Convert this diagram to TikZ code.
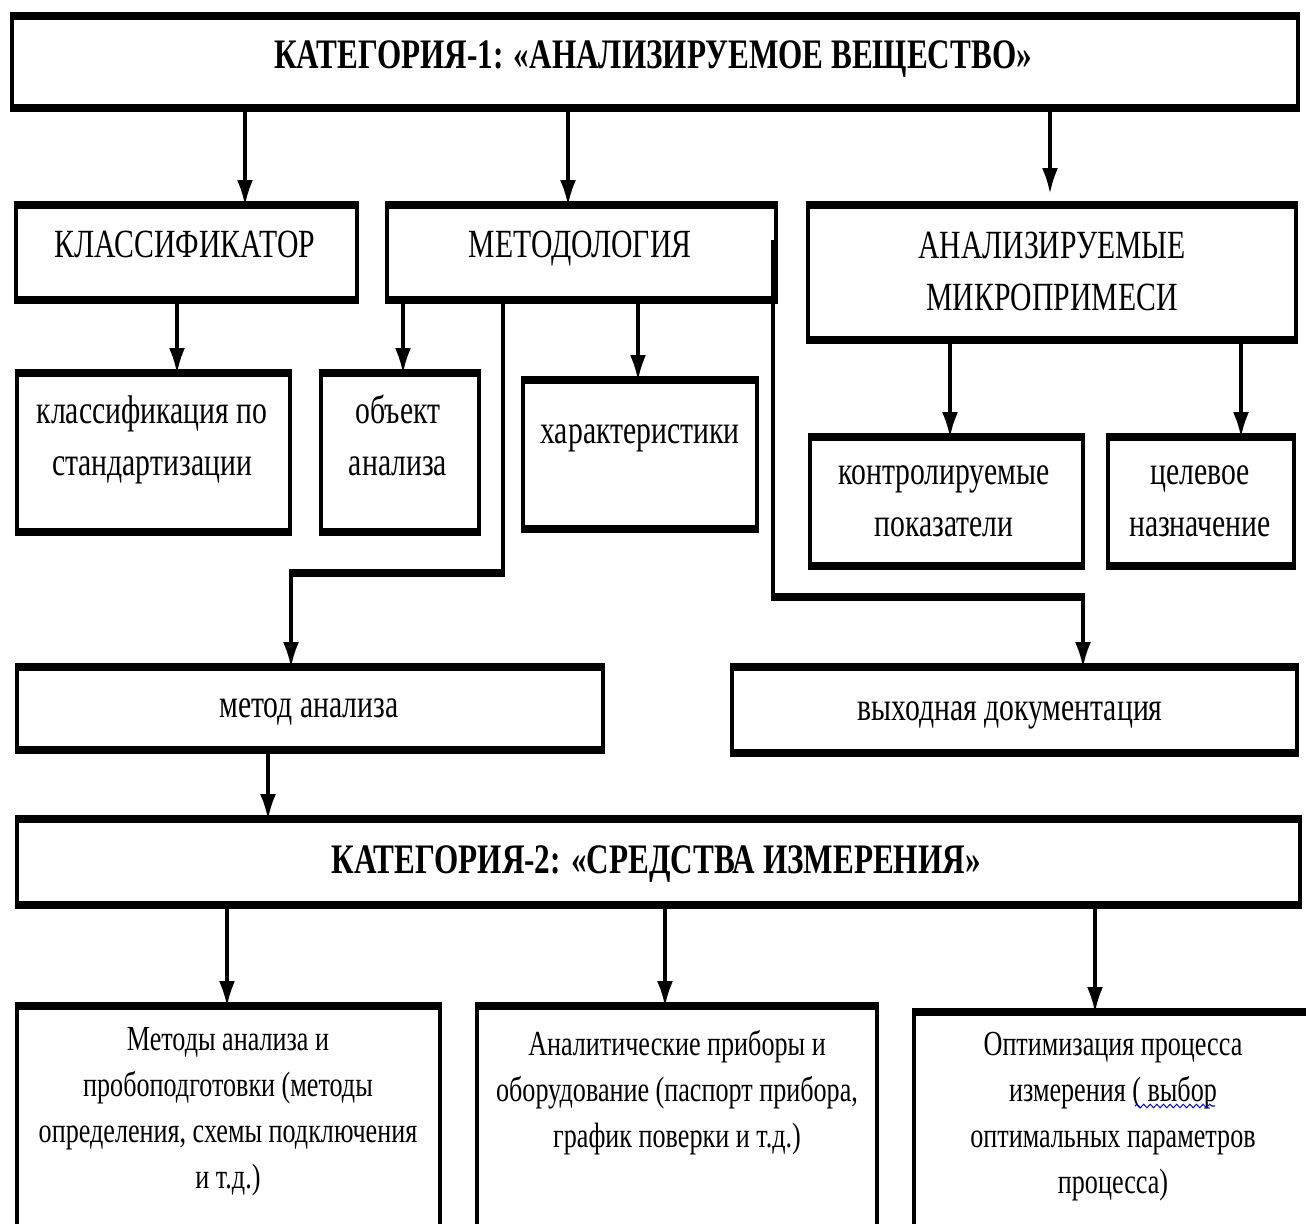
\documentclass[tikz,border=0pt]{standalone}
\usepackage{fontspec}
\setmainfont[FakeStretch=1.35]{Liberation Serif}
\usetikzlibrary{arrows.meta,fit,decorations.pathmorphing}
\begin{document}
\begin{tikzpicture}
\useasboundingbox (0pt,0pt) rectangle (653pt,-611.5pt);
\begin{scope}[transform canvas={xscale=0.55}, x=0.90909pt, y=-0.5pt,
  box/.style={draw, line width=3.7pt, inner sep=0pt, outer sep=0pt},
  arr/.style={line width=3.6pt, -{Latex[length=12.5pt,width=15pt]}},
  txt/.style={font=\fontsize{20pt}{26pt}\selectfont, align=center, anchor=base, inner sep=0pt},
  txts/.style={font=\fontsize{17.6pt}{23pt}\selectfont, align=center, anchor=base, inner sep=0pt},
  txtb/.style={font=\fontsize{21pt}{26pt}\selectfont\bfseries, anchor=base, inner sep=0pt}]
\clip (-20,-20) rectangle (1306,1223);
% boxes
\node[box, fit={(12,16)(1298,108)}] (top) {};
\node[box, fit={(16,205)(357,300)}] (klass) {};
\node[box, fit={(387,205)(776,300)}] (metod) {};
\node[box, fit={(808,205)(1296,340)}] (mikro) {};
\node[box, fit={(17,373)(290,532)}] (cls) {};
\node[box, fit={(321,373)(479,532)}] (obj) {};
\node[box, fit={(523,380)(757,529)}] (har) {};
\node[box, fit={(810,437)(1083,566)}] (kontr) {};
\node[box, fit={(1108,437)(1294,566)}] (cel) {};
\node[box, fit={(17,667)(603,750)}] (metan) {};
\node[box, fit={(732,667)(1297,753)}] (vyh) {};
\node[box, fit={(17,819)(1300,905)}] (cat2) {};
\node[box, fit={(17,1006)(440,1240)}] (b1) {};
\node[box, fit={(477,1006)(877,1240)}] (b2) {};
\node[box, fit={(914,1012)(1330,1240)}] (b3) {};
% texts (anchor base = baseline of the last line)
\node[txtb] (t0) at (653,68) {КАТЕГОРИЯ-1: «АНАЛИЗИРУЕМОЕ ВЕЩЕСТВО»};
\node[txt] (t1) at (185,257) {КЛАССИФИКАТОР};
\node[txt] (t2) at (580,257) {МЕТОДОЛОГИЯ};
\node[txt] (t3) at (1052,310) {АНАЛИЗИРУЕМЫЕ\\МИКРОПРИМЕСИ};
\node[txt] (t4) at (152,475) {классификация по\\стандартизации};
\node[txt] (t5) at (398,475) {объект\\анализа};
\node[txt] (t6) at (640,443) {характеристики};
\node[txt] (t7) at (944,536) {контролируемые\\показатели};
\node[txt] (t8) at (1200,536) {целевое\\назначение};
\node[txt] (t9) at (309,717) {метод анализа};
\node[txt] (t10) at (1010,720) {выходная документация};
\node[txtb] (t11) at (656,873) {КАТЕГОРИЯ-2: «СРЕДСТВА ИЗМЕРЕНИЯ»};
\node[txts] (t12) at (228,1188) {Методы анализа и\\пробоподготовки (методы\\определения, схемы подключения\\и т.д.)};
\node[txts] (t13) at (677,1147) {Аналитические приборы и\\оборудование (паспорт прибора,\\график поверки и т.д.)};
\node[txts] (t14) at (1113,1193) {Оптимизация процесса\\измерения ( выбор\\оптимальных параметров\\процесса)};
\draw[blue!80!black, line width=0.6pt, decorate, decoration={snake, amplitude=0.9pt, segment length=6pt}] (1135,1106) -- (1215,1106);
% connector x positions
\coordinate (a1) at (245,0);
\coordinate (a2) at (568,0);
\coordinate (a3) at (1050,0);
\coordinate (a4) at (177,0);
\coordinate (a5) at (403,0);
\coordinate (a6) at (638,0);
\coordinate (j1) at (503,573);
\coordinate (a8) at (291,0);
\coordinate (j2) at (773,240);
\coordinate (j3) at (773,597);
\coordinate (a10) at (1083,0);
\coordinate (a11) at (950,0);
\coordinate (a12) at (1241,0);
\coordinate (a13) at (268,0);
\coordinate (a14) at (227,0);
\coordinate (a15) at (665,0);
\coordinate (a16) at (1095,0);
% connectors
\draw[arr] (top.south -| a1) -- (klass.north -| a1);
\draw[arr] (top.south -| a2) -- (metod.north -| a2);
\draw[arr, shorten >=6pt] (top.south -| a3) -- (mikro.north -| a3);
\draw[arr] (klass.south -| a4) -- (cls.north -| a4);
\draw[arr] (metod.south -| a5) -- (obj.north -| a5);
\draw[arr] (metod.south -| a6) -- (har.north -| a6);
\draw[arr] (metod.south -| j1) -- (j1) -| (metan.north -| a8);
\draw[arr] (j2) -- (j3) -| (vyh.north -| a10);
\draw[arr] (mikro.south -| a11) -- (kontr.north -| a11);
\draw[arr] (mikro.south -| a12) -- (cel.north -| a12);
\draw[arr] (metan.south -| a13) -- (cat2.north -| a13);
\draw[arr] (cat2.south -| a14) -- (b1.north -| a14);
\draw[arr] (cat2.south -| a15) -- (b2.north -| a15);
\draw[arr] (cat2.south -| a16) -- (b3.north -| a16);
\end{scope}
\end{tikzpicture}
\end{document}
